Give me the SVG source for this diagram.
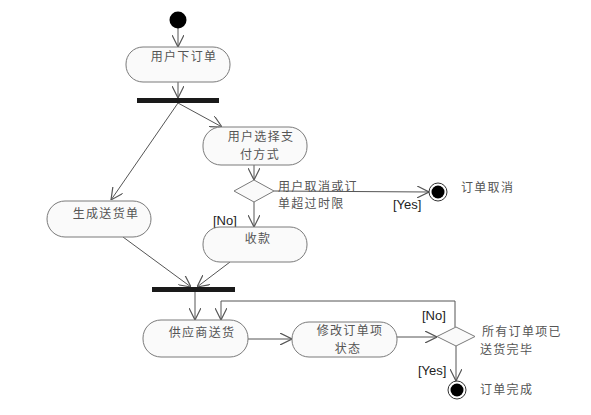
<svg xmlns="http://www.w3.org/2000/svg" width="591" height="415" viewBox="0 0 591 415">
<style>
.node{fill:#fafafa;stroke:#7a7a7a;stroke-width:1}
.t{font-family:"Noto Sans CJK SC","Liberation Sans",sans-serif;font-size:12px;letter-spacing:1.3px;fill:#555}
.g{font-family:"Liberation Sans",Arial,sans-serif;font-size:13px;fill:#222}
.c{fill:none;stroke:#555;stroke-width:1;marker-end:url(#arr)}
.bar{fill:#1a1a1a}
.dia{fill:#fafafa;stroke:#7a7a7a;stroke-width:1}
</style>
<defs>
<marker id="arr" markerWidth="12" markerHeight="12" refX="10" refY="5" orient="auto" markerUnits="userSpaceOnUse" viewBox="0 0 10 10">
<path d="M0,0 L10,5 L0,10" fill="none" stroke="#555" stroke-width="1"/>
</marker>
</defs>
<rect width="591" height="415" fill="#ffffff"/>
<g id="connectors">
<line class="c" x1="178" y1="28" x2="178" y2="47"/>
<line class="c" x1="178" y1="82" x2="178" y2="98"/>
<line class="c" x1="178" y1="103" x2="111" y2="200"/>
<line class="c" x1="178" y1="103" x2="222" y2="127"/>
<line class="c" x1="254" y1="165" x2="254" y2="180"/>
<line class="c" x1="274" y1="191" x2="429" y2="192"/>
<line class="c" x1="254" y1="202" x2="254" y2="227"/>
<line class="c" x1="123" y1="237" x2="191" y2="287"/>
<line class="c" x1="230" y1="262" x2="197" y2="287"/>
<line class="c" x1="195" y1="292" x2="195" y2="320"/>
<polyline class="c" points="455,327 455,301 221,301 221,320"/>
<line class="c" x1="248" y1="339" x2="292" y2="339"/>
<line class="c" x1="397" y1="337" x2="437" y2="337"/>
<line class="c" x1="456" y1="346" x2="456" y2="381"/>
</g>
<g id="start"><circle cx="178" cy="20" r="8.5" fill="#000"/></g>
<g id="n1"><rect class="node" x="126" y="47" width="104" height="35" rx="17"/><text class="t" x="184" y="61" text-anchor="middle">用户下订单</text></g>
<g id="fork1"><rect class="bar" x="137" y="98" width="82" height="5"/></g>
<g id="n2"><rect class="node" x="203" y="127" width="104" height="38" rx="18"/><text class="t" x="261" y="141" text-anchor="middle">用户选择支</text><text class="t" x="260" y="158.5" text-anchor="middle">付方式</text></g>
<g id="d1"><polygon class="dia" points="254,180 274,191 254,202 234,191"/>
<text class="t" x="278" y="190.5">用户取消或订</text><text class="t" x="278" y="208">单超过时限</text>
<text class="g" x="393" y="209">[Yes]</text><text class="g" x="213" y="225">[No]</text></g>
<g id="end1"><circle cx="438" cy="192" r="9" fill="#fff" stroke="#333"/><circle cx="438" cy="192" r="6.5" fill="#000"/><text class="t" x="461" y="192">订单取消</text></g>
<g id="n3"><rect class="node" x="47" y="201" width="104" height="36" rx="18"/><text class="t" x="106" y="218" text-anchor="middle">生成送货单</text></g>
<g id="n4"><rect class="node" x="203" y="227" width="104" height="35" rx="17"/><text class="t" x="258" y="243" text-anchor="middle">收款</text></g>
<g id="join"><rect class="bar" x="152" y="287" width="83" height="5"/></g>
<g id="n5"><rect class="node" x="143" y="320" width="105" height="37" rx="18"/><text class="t" x="202" y="337" text-anchor="middle">供应商送货</text></g>
<g id="n6"><rect class="node" x="292" y="322" width="105" height="35" rx="17"/><text class="t" x="350" y="335" text-anchor="middle">修改订单项</text><text class="t" x="348" y="352.5" text-anchor="middle">状态</text></g>
<g id="d2"><polygon class="dia" points="456,327 475,336.5 456,346 437,336.5"/>
<text class="t" x="482" y="336">所有订单项已</text><text class="t" x="480" y="353.5">送货完毕</text>
<text class="g" x="422" y="320">[No]</text><text class="g" x="418" y="375">[Yes]</text></g>
<g id="end2"><circle cx="457" cy="390" r="9" fill="#fff" stroke="#333"/><circle cx="457" cy="390" r="6.5" fill="#000"/><text class="t" x="480" y="394">订单完成</text></g>
</svg>
